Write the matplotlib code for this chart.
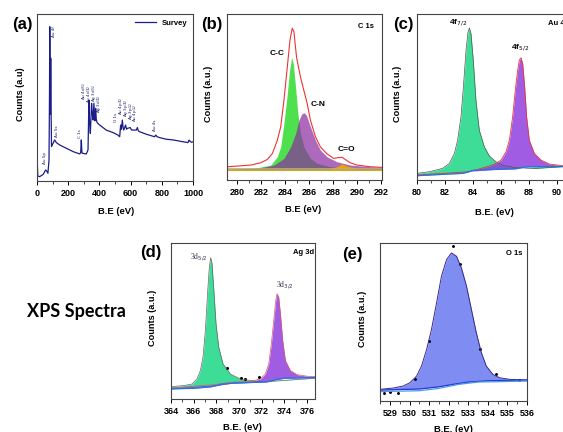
import numpy as np
import matplotlib.pyplot as plt
from matplotlib.ticker import MultipleLocator

# ---- (a) survey ----
survey_ev = [0, 2, 5, 17, 40, 55, 62, 70, 77, 80, 82, 84, 86, 88, 90, 93, 103, 113, 124, 145,
             188, 231, 274, 280, 284, 288, 291, 316, 327, 333, 337, 342, 350, 355, 359, 365,
             369, 372, 376, 380, 385, 402, 444, 487, 519, 530, 536, 541, 547, 552, 556, 568,
             574, 579, 598, 606, 615, 637, 643, 650, 658, 701, 754, 761, 770, 786, 829, 872,
             936, 968, 975, 979, 990, 1000]
survey_cts = [3, 10.6, 3, 2.6, 4, 6.6, 6, 4.6, 12.6, 50, 92.4, 60, 40, 73.5, 45, 20.6, 22.6, 24.6, 23, 21.6,
              19.6, 17.6, 16.2, 17, 24.6, 17, 16.6, 16.2, 18.6, 48.5, 35, 28.5, 46.5, 40, 36.5, 46.5,
              38, 36, 43.5, 37, 35, 33.5, 30.5, 29, 27.5, 26.5, 33.5, 31, 36.5, 32, 30.5, 33.5,
              31, 31.5, 32, 30.5, 30.5, 30.5, 32, 30, 29.5, 28, 26.5, 27.5, 26.5, 26, 25, 24.6,
              23.5, 23, 24.5, 24, 23.2, 23.5]
survey_tags = ['Au 5p', 'Au 4f', 'Au 5s', 'C 1s', 'Au 4d$_{5/2}$', 'Au 4d$_{3/2}$', 'Ag 3d$_{5/2}$',
               'Ag 3d$_{3/2}$', 'O 1s', 'Au 4p$_{3/2}$', 'Ag 3p$_{3/2}$', 'Ag 3p$_{1/2}$', 'Au 4p$_{1/2}$', 'Au 4s']
tag_ev = [51, 111, 128, 276, 305, 335, 365, 395, 509, 541, 571, 601, 631, 756]
tag_y = [10, 86, 26.3, 25.7, 48.5, 46.7, 47.3, 40.7, 35.3, 39.5, 38.3, 36.5, 35.3, 30]

# ---- (b) C 1s ----
c_env_ev = [279.28, 281.16, 281.99, 282.54, 282.96, 283.37, 283.65, 283.92, 284.2, 284.42, 284.61, 284.75,
            284.97, 285.3, 285.58, 285.86, 286.13, 286.55, 286.96, 287.51, 288.07, 288.48, 288.76,
            289.03, 289.45, 290, 291.1, 292.1]
c_env = [8, 9, 10.4, 12.4, 16, 24, 32, 48, 68, 84, 91.4, 89.4, 74, 62, 54, 46, 36, 26, 20, 15.7, 13, 13.5,
         13.7, 12.4, 10.4, 9, 8, 7.6]
cc_ev = [279.28, 281.71, 282.82, 283.37, 283.65, 283.92, 284.2, 284.39, 284.56, 284.7, 284.89, 285.08,
         285.3, 285.58, 286.13, 286.69, 287.79, 289.45, 292.1]
cc = [6.5, 7.4, 9, 14, 20, 34, 52, 66, 73.9, 70, 56, 40, 28, 20, 13, 10, 8, 7, 6.5]
cn_ev = [279.28, 281.71, 283.09, 283.92, 284.48, 284.89, 285.17, 285.39, 285.58, 285.8, 286.13, 286.55,
         286.96, 287.51, 288.34, 289.45, 291.1, 292.1]
cn = [6.5, 7, 9, 13, 20, 28, 36, 39.6, 40.6, 39, 32, 24, 18, 14, 11, 9, 8, 7.6]
co_ev = [287.79, 288.34, 288.76, 289.17, 290]
co = [7, 8, 9.6, 8.4, 7]

# ---- (c) Au 4f ----
au7_ev = [80, 80.88, 81.83, 82.31, 82.67, 82.9, 83.14, 83.33, 83.5, 83.64, 83.74, 83.86, 84.02, 84.21,
          84.45, 84.81, 85.17, 85.64, 86.12, 87.07, 88.5, 90.4, 91]
au7 = [4, 5, 7, 10, 16, 24, 38, 58, 78, 89, 91.6, 88, 72, 48, 30, 20, 14.4, 11, 9, 7.4, 7, 8, 8.2]
au5_ev = [80, 83.74, 85.17, 85.64, 86, 86.36, 86.6, 86.83, 87.02, 87.19, 87.31, 87.43, 87.55, 87.69,
          87.83, 88.02, 88.38, 88.86, 89.45, 90.4, 91]
au5 = [3, 5, 8.4, 10, 12, 17, 24, 38, 54, 66, 72.4, 73.6, 70, 56, 38, 24, 16, 12, 9.6, 8.6, 8.4]
au_bg_ev = [80, 83.26, 83.5, 84.0, 84.5, 87.07, 87.5, 88, 91]
au_bg = [2.6, 4, 4.5, 5.8, 6, 6.8, 7.6, 8, 8.2]

# ---- (d) Ag 3d ----
ag5_ev = [364, 365.12, 365.85, 366.29, 366.59, 366.82, 367.03, 367.24, 367.38, 367.5, 367.62, 367.76,
          367.97, 368.21, 368.59, 369.24, 370.12, 371.59, 372.76, 377]
ag5 = [7.9, 8.6, 9.6, 12.8, 18.2, 26.8, 43.9, 69.6, 84.6, 90.6, 86.7, 71.7, 48.2, 33.2, 22.5, 16, 12.8,
       11.3, 11.3, 13.5]
ag3_ev = [364, 367.76, 369.24, 371, 371.88, 372.32, 372.62, 372.85, 373.06, 373.24, 373.35, 373.5, 373.65,
          373.85, 374.09, 374.53, 375.12, 376, 377]
ag3 = [7, 9.2, 10.7, 11.3, 12.8, 16, 22.5, 35.3, 50.3, 63.2, 67.5, 65.3, 54.6, 37.5, 24.6, 18.2, 15.6,
       14.6, 14.3]
ag_bg_ev = [364, 366, 367.5, 368.5, 369.5, 372.5, 373.3, 374, 377]
ag_bg = [6.5, 6.9, 7.8, 9.5, 10.2, 11, 12.5, 13.3, 13.8]
ag_dot_ev = [370.2, 370.5, 371.8, 368.9]
ag_dot = [13.5, 12.8, 14, 20]

# ---- (e) O 1s ----
o_ev = [528.5, 529.17, 529.68, 530.02, 530.36, 530.61, 530.87, 531.12, 531.38, 531.63, 531.89, 532.14,
        532.4, 532.65, 532.91, 533.16, 533.41, 533.67, 533.92, 534.26, 534.6, 535.12, 536]
o_cts = [7.4, 8.2, 9.5, 11.6, 15.8, 22.1, 32.6, 45.3, 62.1, 79, 89.5, 93.7, 91.6, 84.2, 72.6, 57.9, 43.2,
         30.5, 22.1, 16.8, 14.7, 13.7, 13.3]
o_bg_ev = [528.5, 530.5, 531.5, 532.2, 533, 534, 536]
o_bg = [6.9, 7.6, 9, 10.5, 12, 12.8, 13.3]
o_bg2_ev = [528.5, 530.5, 531.5, 532.5, 533.5, 536]
o_bg2 = [6, 6.5, 8, 10.5, 12, 12.6]
o_dot_ev = [528.7, 529.0, 529.4, 532.2, 532.6, 533.6, 534.4, 535.6, 530.3, 531.0]
o_dot = [5.3, 5.6, 5.3, 98, 87, 33, 17, 13.2, 14, 38]

W, H = 563, 432
fig = plt.figure(figsize=(W / 100, H / 100), dpi=100)


def box(l, r, t, b):
    return [l / W, 1 - b / H, (r - l) / W, (b - t) / H]


sans = 'Liberation Sans'


def style(ax, xlim, major, minor, xlabel, lx, ly, yl_x, ylabel='Counts (a.u.)'):
    ax.set_xlim(*xlim)
    ax.set_ylim(0, 100)
    ax.set_yticks([])
    ax.xaxis.set_major_locator(MultipleLocator(major))
    ax.xaxis.set_minor_locator(MultipleLocator(minor))
    ax.tick_params(axis='x', which='major', length=3, width=0.7, pad=2.5, labelsize=6.5)
    ax.tick_params(axis='x', which='minor', length=1.8, width=0.5)
    for t in ax.get_xticklabels():
        t.set_family(sans)
        t.set_fontweight('bold')
    for s in ax.spines.values():
        s.set_color('#444444')
        s.set_linewidth(0.8)
    ax.set_xlabel(xlabel, family=sans, fontweight='bold', fontsize=6.8)
    ax.xaxis.set_label_coords(lx, ly)
    ax.set_ylabel(ylabel, family=sans, fontweight='bold', fontsize=6.6)
    ax.yaxis.set_label_coords(yl_x, 0.52)


# (a)
axa = fig.add_axes(box(37, 193, 14, 181))
axa.plot(survey_ev, survey_cts, color='#1c1c8a', lw=0.9, label='Survey')
for name, x, y in zip(survey_tags, tag_ev, tag_y):
    axa.text(x, y, name, rotation=90, fontsize=3.0, color='#1c1c6a', ha='center', va='bottom')
axa.legend(loc='upper right', frameon=False, prop={'family': sans, 'weight': 'bold', 'size': 5.5},
           handlelength=2.8, borderaxespad=0.3)
style(axa, (0, 1000), 200, 100, 'B.E (eV)', 0.506, -0.156, -12 / 156, 'Counts (a.u)')

# (b)
axb = fig.add_axes(box(227, 382, 14, 180))
axb.fill_between(cc_ev, 6, cc, color='#4ee04e', lw=0)
axb.fill_between(cn_ev, 6, cn, color='#8a2a9e', alpha=0.7, lw=0)
axb.fill_between(co_ev, 6, co, color='#f0a000', lw=0)
axb.axhline(6.3, color='#e0a800', lw=1.2)
axb.axhline(7.2, color='#9ab0d0', lw=0.6)
axb.plot(c_env_ev, c_env, color='#ee3333', lw=0.8)
axb.text(290.1, 92.4, 'C 1s', fontsize=5.5, fontweight='bold', family=sans, va='center')
axb.text(283.35, 76, 'C-C', fontsize=6, fontweight='bold', family=sans, ha='center', va='center')
axb.text(286.74, 45.6, 'C-N', fontsize=6, fontweight='bold', family=sans, ha='center', va='center')
axb.text(289.1, 18.5, 'C=O', fontsize=6, fontweight='bold', family=sans, ha='center', va='center')
style(axb, (279.17, 292.1), 2, 1, 'B.E (eV)', 0.49, -0.15, -14 / 155)

# (c)
axc = fig.add_axes(box(417, 571, 14, 180))
axc.fill_between(au7_ev, np.interp(au7_ev, au_bg_ev, au_bg), au7, color='#3ddc97', lw=0)
axc.fill_between(au5_ev, np.interp(au5_ev, au_bg_ev, au_bg), au5, color='#9040e0', alpha=0.85, lw=0)
axc.plot(au7_ev, au7, color='#555555', lw=0.5)
axc.plot(au5_ev, au5, color='#ee3333', lw=0.6)
axc.plot(au_bg_ev, au_bg, color='#2f6fe0', lw=0.9)
axc.text(82.93, 94.6, '4f$_{7/2}$', fontsize=6, fontweight='bold', family=sans, ha='center', va='center')
axc.text(87.36, 80, '4f$_{5/2}$', fontsize=6, fontweight='bold', family=sans, ha='center', va='center')
axc.text(89.36, 94, 'Au 4f', fontsize=5.5, fontweight='bold', family=sans, va='center')
style(axc, (80, 91), 2, 1, 'B.E. (eV)', 0.503, -0.169, -15 / 154)

# (d)
axd = fig.add_axes(box(171, 315, 243, 399))
axd.fill_between(ag5_ev, np.interp(ag5_ev, ag_bg_ev, ag_bg), ag5, color='#3ddc97', lw=0)
axd.fill_between(ag3_ev, np.interp(ag3_ev, ag_bg_ev, ag_bg), ag3, color='#9040e0', alpha=0.85, lw=0)
axd.plot(ag5_ev, ag5, color='#666666', lw=0.5)
axd.plot(ag3_ev, ag3, color='#dd5566', lw=0.5)
axd.plot(ag_bg_ev, ag_bg, color='#2f6fe0', lw=1.0)
axd.scatter(ag_dot_ev, ag_dot, s=1.5, color='black')
axd.text(366.44, 91, '3d$_{5/2}$', fontsize=5.5, family='Liberation Serif', color='#333355', ha='center', va='center')
axd.text(374.0, 72.8, '3d$_{3/2}$', fontsize=5.5, family='Liberation Serif', color='#333355', ha='center', va='center')
axd.text(376.6, 93.6, 'Ag 3d', fontsize=5.5, fontweight='bold', family=sans, ha='right', va='center')
style(axd, (364, 376.7), 2, 1, 'B.E. (eV)', 0.497, -0.155, -14 / 144)

# (e)
axe = fig.add_axes(box(380, 527, 243, 401))
axe.fill_between(o_ev, np.interp(o_ev, o_bg_ev, o_bg), o_cts, color='#7f8cf2', lw=0)
axe.plot(o_ev, o_cts, color='#3a2a8a', lw=0.7)
axe.plot(o_bg_ev, o_bg, color='#2a3ad0', lw=0.9)
axe.plot(o_bg2_ev, o_bg2, color='#4a9aea', lw=0.9)
axe.scatter(o_dot_ev, o_dot, s=1.2, color='black')
axe.text(535.75, 93.3, 'O 1s', fontsize=5.5, fontweight='bold', family=sans, ha='right', va='center')
style(axe, (528.49, 536), 1, 0.5, 'B.E. (eV)', 0.5, -0.15, -13 / 147)

# panel letters
for lab, x, y in [('(a)', 22, 25), ('(b)', 212, 25), ('(c)', 403, 25), ('(d)', 151, 253), ('(e)', 352, 255)]:
    fig.text(x / W, 1 - y / H, lab, fontsize=12, fontweight='bold', family=sans, ha='center', va='center')

fig.text(76 / W, 1 - 312 / H, 'XPS Spectra', fontsize=13, fontweight='bold', family='Lato', ha='center', va='center')

fig.savefig('out.png', dpi=100)
